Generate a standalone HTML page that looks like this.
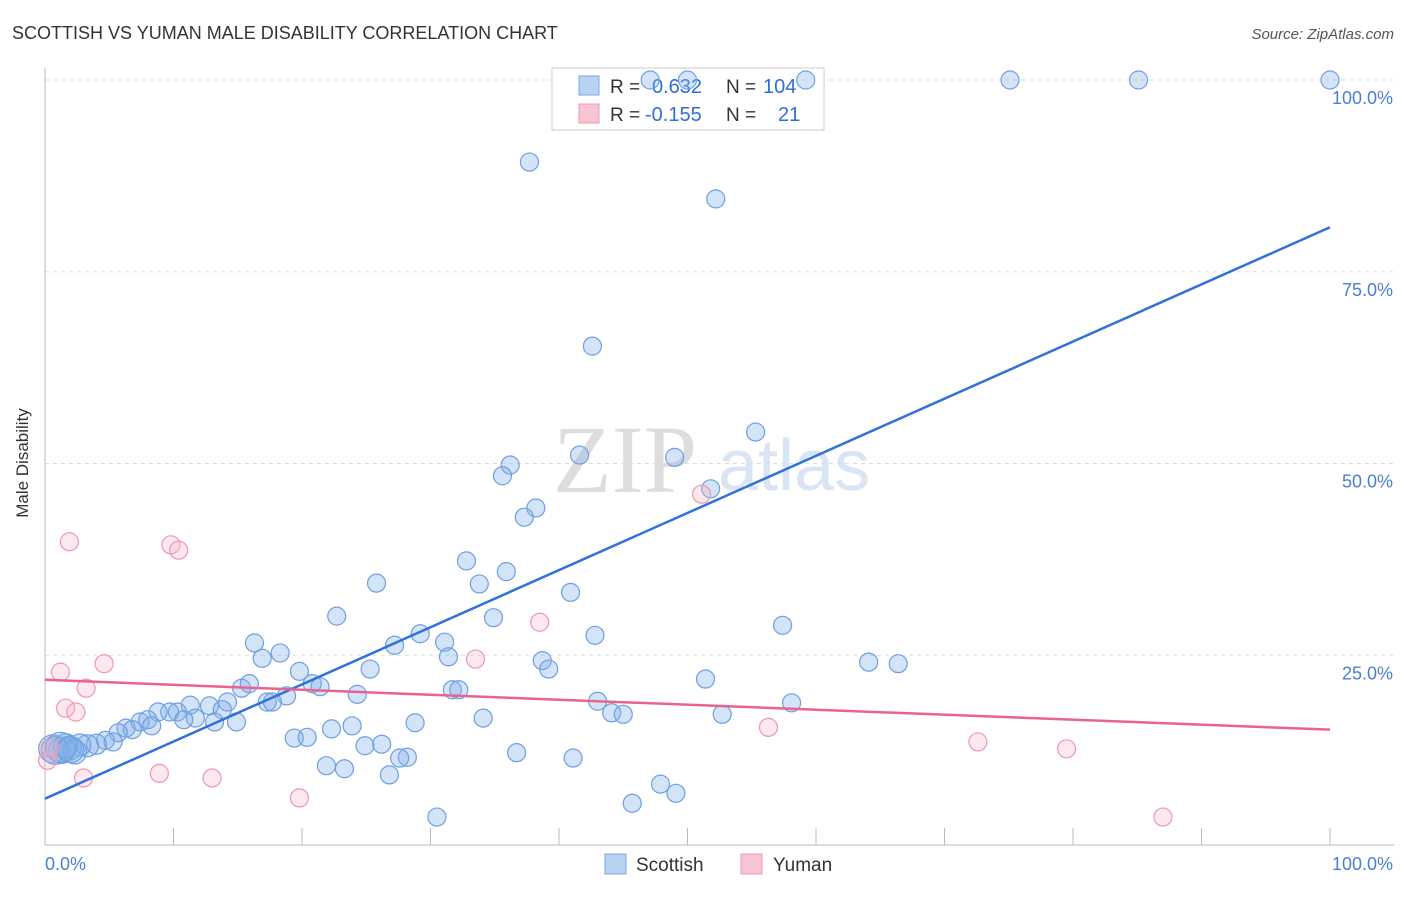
<!DOCTYPE html>
<html><head><meta charset="utf-8"><style>
body{margin:0;background:#fff;font-family:"Liberation Sans",sans-serif;}
svg text{font-family:"Liberation Sans",sans-serif;}
</style></head><body>
<svg width="1406" height="892" xmlns="http://www.w3.org/2000/svg" id="chart">
<text x="12" y="39" font-size="18" fill="#333">SCOTTISH VS YUMAN MALE DISABILITY CORRELATION CHART</text>
<text x="1394" y="39" font-size="15" fill="#555" font-style="italic" text-anchor="end">Source: ZipAtlas.com</text>
<g>
<text x="553" y="492" font-size="96" fill="#ddd" style="font-family:'Liberation Serif',serif">ZIP</text>
<text x="718" y="490" font-size="72" fill="#d9e5f5">atlas</text>
</g>
<g id="grid"></g>
<line x1="45" y1="68" x2="45" y2="845" stroke="#bbb"/>
<line x1="45" y1="845" x2="1394" y2="845" stroke="#bbb"/>
<g id="ticks"></g>
<g>
<rect x="552" y="68" width="272" height="62" fill="#fff" stroke="#ccc"/>
<rect x="579" y="76" width="20" height="19" fill="#b8d2f3" stroke="#7aa6e2"/>
<rect x="579" y="104" width="20" height="19" fill="#f8c4d2" stroke="#ec9ab2"/>
<text x="610" y="93" font-size="19" fill="#333">R = </text><text x="652" y="93" font-size="20" fill="#2f6fd6">0.632</text>
<text x="726" y="93" font-size="19" fill="#333">N = </text><text x="763" y="93" font-size="20" fill="#2f6fd6">104</text>
<text x="610" y="121" font-size="19" fill="#333">R = </text><text x="645" y="121" font-size="20" fill="#2f6fd6">-0.155</text>
<text x="726" y="121" font-size="19" fill="#333">N = </text><text x="778" y="121" font-size="20" fill="#2f6fd6">21</text>
</g>
<g id="pts"></g>
<g id="lines"></g>
<text x="20" y="455" font-size="17" fill="#333" text-anchor="middle" transform="rotate(-90 28 455)">Male Disability</text>
<text x="45" y="870" font-size="18" fill="#4a7fd4">0.0%</text>
<text x="1393" y="870" font-size="18" fill="#4a7fd4" text-anchor="end">100.0%</text>
<g>
<rect x="605" y="854" width="21" height="20" fill="#b8d2f3" stroke="#7aa6e2"/>
<text x="636" y="871" font-size="19" fill="#333">Scottish</text>
<rect x="741" y="854" width="21" height="20" fill="#f8c4d2" stroke="#ec9ab2"/>
<text x="773" y="871" font-size="19" fill="#333">Yuman</text>
</g>
</svg>
<script>
const yTicks=[25,50,75,100];
const yTickLabels=["25.0%","50.0%","75.0%","100.0%"];
const xTicks=[0,10,20,30,40,50,60,70,80,90,100];
const scottishX=[47.1,50,59.2,75.1,85.1,100,37.7,52.2,42.6,55.3,41.6,49,36.2,35.6,51.8,38.2,37.3,32.8,25.8,35.9,33.8,40.9,22.7,34.9,57.4,42.8,29.2,31.1,27.2,16.3,18.3,16.9,31.4,38.7,39.2,64.1,66.4,19.8,25.3,51.4,15.3,15.9,20.8,21.4,31.7,32.2,18.8,24.3,14.2,17.3,17.7,43,58.1,12.8,11.3,13.8,10.3,9.7,8.8,44.1,45,52.7,11.7,10.8,13.2,14.9,34.1,28.8,7.4,8,8.3,6.3,6.8,5.7,4.7,5.3,23.9,22.3,19.4,20.4,26.2,24.9,36.7,41.1,28.2,27.6,21.9,23.3,26.8,47.9,49.1,45.7,30.5,4,3.3,2.7,1.9,1.3,0.8,2.3,1.6,0.6,1.2,2.0];
const scottishY=[100,100,100,100,100,100,89.3,84.5,65.3,54.1,51.1,50.8,49.8,48.4,46.7,44.2,43,37.3,34.4,35.9,34.3,33.2,30.1,29.9,28.9,27.6,27.8,26.7,26.3,26.6,25.3,24.6,24.8,24.3,23.2,24.1,23.9,22.9,23.2,21.9,20.7,21.3,21.3,20.9,20.5,20.5,19.7,19.9,18.9,18.9,18.9,19,18.8,18.4,18.5,17.9,17.6,17.6,17.6,17.5,17.3,17.3,16.8,16.6,16.3,16.3,16.8,16.2,16.3,16.6,15.8,15.5,15.3,14.9,13.9,13.7,15.8,15.4,14.2,14.3,13.4,13.2,12.3,11.6,11.7,11.6,10.6,10.2,9.4,8.2,7,5.7,3.9,13.4,13.2,13.3,12.9,12.6,12.6,12.4,13.2,12.8,13.0,12.7];
const scottishR=[9,9,9,9,9,9,9,9,9,9,9,9,9,9,9,9,9,9,9,9,9,9,9,9,9,9,9,9,9,9,9,9,9,9,9,9,9,9,9,9,9,9,9,9,9,9,9,9,9,9,9,9,9,9,9,9,9,9,9,9,9,9,9,9,9,9,9,9,9,9,9,9,9,9,9,9,9,9,9,9,9,9,9,9,9,9,9,9,9,9,9,9,9,10,11,11,12,13,14,12,12,14,15,13];
const yumanX=[1.9,9.8,10.4,1.2,4.6,3.2,1.6,2.4,33.5,38.5,51.1,8.9,13,3,19.8,56.3,72.6,79.5,87,0.2,0.4];
const yumanY=[39.8,39.4,38.7,22.8,23.9,20.7,18.1,17.6,24.5,29.3,46,9.6,9,9,6.4,15.6,13.7,12.8,3.9,11.3,12.9];
const blueLine=[6.3,80.8];
const pinkLine=[21.8,15.3];
const NS="http://www.w3.org/2000/svg";
const sx=v=>45+v*12.85, sy=v=>847-v*7.67;
function mk(tag,attrs,parent){const e=document.createElementNS(NS,tag);for(const k in attrs)e.setAttribute(k,attrs[k]);document.getElementById(parent).appendChild(e);return e;}
yTicks.forEach((t,i)=>{
 const l=mk('line',{x1:45,x2:1394,y1:sy(t),y2:sy(t),stroke:'#ddd','stroke-dasharray':'4 4'},'grid');
 
 
 const tx=mk('text',{x:1393,y:sy(t)+24,'font-size':18,fill:'#4a7fd4','text-anchor':'end'},'grid');
 tx.textContent=yTickLabels[i];
 
 
});
xTicks.forEach(t=>{
 const l=mk('line',{x1:sx(t),x2:sx(t),y1:828,y2:845,stroke:'#bbb'},'ticks');
 
 
});
scottishX.forEach((x,i)=>{
 const c=mk('circle',{cx:sx(x),cy:sy(scottishY[i]),r:scottishR[i],fill:'rgba(130,175,235,0.35)',stroke:'#6f9fe0','stroke-width':1.2},'pts');
 
 
});
yumanX.forEach((x,i)=>{
 const c=mk('circle',{cx:sx(x),cy:sy(yumanY[i]),r:9,fill:'rgba(248,180,200,0.3)',stroke:'#ec98b0','stroke-width':1.2},'pts');
 
 
});
const bl=mk('line',{x1:sx(0),y1:sy(blueLine[0]),x2:sx(100),y2:sy(blueLine[1]),stroke:'#2f72d8','stroke-width':2.5},'lines');


const pl=mk('line',{x1:sx(0),y1:sy(pinkLine[0]),x2:sx(100),y2:sy(pinkLine[1]),stroke:'#e8648e','stroke-width':2.5},'lines');


</script>
</body></html>
